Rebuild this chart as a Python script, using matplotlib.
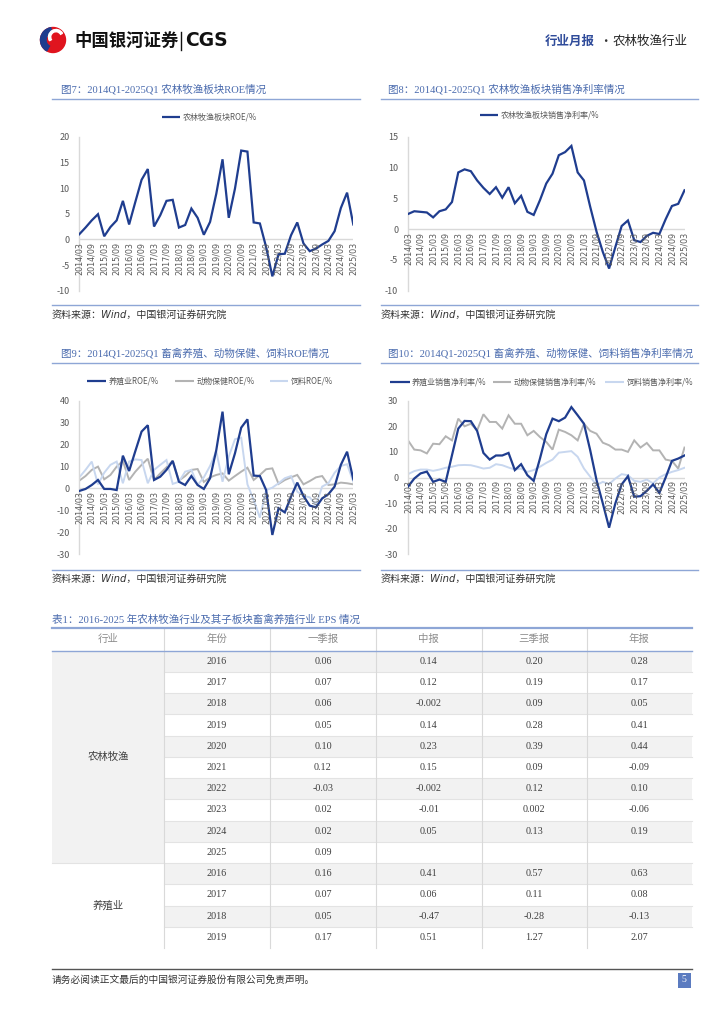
import matplotlib
matplotlib.use('Agg')
import matplotlib.pyplot as plt
from matplotlib.patches import Rectangle, Circle, Wedge

plt.rcParams['font.family'] = ['Noto Sans CJK SC', 'DejaVu Sans']
plt.rcParams['axes.unicode_minus'] = False

# ---------------- data ----------------
n_quarters = 45  # 2014Q1 .. 2025Q1
x_tick_labels = ['2014/03', '2014/09', '2015/03', '2015/09', '2016/03', '2016/09',
                 '2017/03', '2017/09', '2018/03', '2018/09', '2019/03', '2019/09',
                 '2020/03', '2020/09', '2021/03', '2021/09', '2022/03', '2022/09',
                 '2023/03', '2023/09', '2024/03', '2024/09', '2025/03']

sector_roe = [1.0, 2.3, 3.7, 4.9, 0.6, 2.4, 3.7, 7.5, 2.9, 7.3, 11.6, 13.7, 2.5, 4.7, 7.5,
              7.7, 2.3, 2.8, 6.0, 4.2, 0.9, 3.4, 8.9, 15.6, 4.2, 9.9, 17.3, 17.1, 3.3, 3.1,
              -1.5, -7.2, -2.9, -2.8, 0.8, 3.3, -0.8, -2.3, -1.8, -1.0, -0.3, 1.6, 6.1, 9.1, 2.9]

sector_npm = [2.45, 2.9, 2.8, 2.7, 1.9, 2.9, 3.2, 4.4, 9.2, 9.7, 9.4, 7.9, 6.7, 5.7, 6.8,
              5.1, 6.8, 4.2, 5.4, 2.8, 2.3, 4.7, 7.4, 9.0, 12.0, 12.5, 13.5, 9.2, 7.9, 3.6,
              -0.4, -3.7, -6.4, -2.9, 0.5, 1.4, -1.8, -2.1, -1.1, -0.6, -0.8, 1.6, 3.75, 4.1, 6.3]

breed_roe = [-1.2, -0.3, 1.5, 3.8, -0.3, -0.3, -0.8, 14.9, 7.9, 17.0, 25.9, 28.8, 3.8, 5.3, 8.4,
             12.5, 3.0, 1.5, 5.6, 1.5, -0.3, 4.6, 17.5, 35.0, 6.4, 16.0, 27.7, 31.5, 5.8, 5.6,
             -0.8, -21.3, -9.1, -11.0, -3.8, 2.6, -3.5, -7.9, -8.7, -4.6, -2.7, 0.8, 10.7, 16.7, 4.1]
vet_roe = [3.5, 5.6, 8.4, 9.9, 4.1, 6.1, 9.9, 12.5, 3.8, 7.6, 10.7, 13.5, 3.8, 6.8, 9.6,
           12.6, 3.5, 5.6, 8.4, 8.8, 2.9, 5.0, 6.1, 6.8, 3.5, 5.6, 7.6, 9.4, 3.8, 6.1,
           8.7, 9.1, 2.0, 3.8, 5.0, 6.1, 1.8, 3.3, 5.0, 5.6, 1.5, 1.8, 2.6, 2.3, 1.8]
feed_roe = [5.0, 8.4, 12.2, 1.8, 7.1, 10.7, 12.2, 2.3, 12.2, 13.2, 12.9, 2.3, 8.4, 10.7, 12.9,
            2.0, 3.0, 7.6, 8.4, 1.5, 5.0, 10.2, 17.0, 3.0, 14.5, 22.4, 23.1, 1.8, -5.3, -13.4,
            -0.8, 0.3, 2.3, 4.6, 5.6, -1.5, -3.5, -4.1, -7.6, 0.8, 2.3, 7.1, 10.2, 11.0, 3.0]

breed_npm = [-3.6, -0.4, 1.6, 2.3, -1.7, -0.8, -1.7, 8.7, 19.1, 22.1, 22.0, 18.2, 9.6, 7.0, 8.6,
             8.6, 9.6, 2.9, 5.2, 0.9, -1.3, 7.4, 16.9, 23.0, 22.0, 23.4, 27.5, 24.3, 21.0, 10.6,
             -1.0, -10.1, -19.6, -10.1, -2.7, 0.5, -7.5, -7.3, -5.2, -2.7, -6.0, 0.0, 6.5, 7.4, 8.6]
vet_npm = [14.5, 10.9, 10.6, 9.4, 13.2, 13.0, 16.1, 14.5, 23.0, 20.0, 21.0, 18.4, 24.7, 21.7, 21.7,
           19.1, 24.3, 21.0, 21.0, 16.5, 18.2, 15.8, 13.9, 10.9, 18.7, 17.8, 16.5, 14.5, 21.0, 18.2,
           17.1, 13.6, 12.6, 10.9, 10.9, 10.0, 14.5, 11.7, 13.5, 10.6, 10.6, 7.0, 6.5, 3.5, 11.7]
feed_npm = [1.3, 2.5, 3.1, 3.1, 2.6, 3.1, 3.8, 4.2, 4.8, 4.9, 4.8, 4.2, 3.5, 3.8, 5.2,
            4.8, 3.9, 3.1, 3.5, 2.2, 2.9, 4.2, 5.7, 7.0, 9.7, 10.0, 10.3, 8.1, 3.5, 0.3,
            -3.0, -1.7, -2.6, -0.4, 1.3, 0.9, -1.3, -1.7, -0.8, -2.3, 0.0, 1.3, 2.2, 2.9, 3.8]

table_header = ['行业', '年份', '一季报', '中报', '三季报', '年报']
agri_years = ['2016', '2017', '2018', '2019', '2020', '2021', '2022', '2023', '2024', '2025']
agri_q1 = ['0.06', '0.07', '0.06', '0.05', '0.10', '0.12', '-0.03', '0.02', '0.02', '0.09']
agri_h1 = ['0.14', '0.12', '-0.002', '0.14', '0.23', '0.15', '-0.002', '-0.01', '0.05', '']
agri_q3 = ['0.20', '0.19', '0.09', '0.28', '0.39', '0.09', '0.12', '0.002', '0.13', '']
agri_fy = ['0.28', '0.17', '0.05', '0.41', '0.44', '-0.09', '0.10', '-0.06', '0.19', '']
breed_years = ['2016', '2017', '2018', '2019']
breed_q1 = ['0.16', '0.07', '0.05', '0.17']
breed_h1 = ['0.41', '0.06', '-0.47', '0.51']
breed_q3 = ['0.57', '0.11', '-0.28', '1.27']
breed_fy = ['0.63', '0.08', '-0.13', '2.07']

# ---------------- style ----------------
DARK = '#1F3D8F'
GRAY = '#B3B3B3'
LIGHT = '#C8D7EF'
TITLE_BLUE = '#4A6BAE'
RULE = '#8EA6D6'
TICK = '#595959'
CJK_SERIF = ['Liberation Serif', 'Noto Sans CJK SC']

W, H = 724, 1024
fig = plt.figure(figsize=(7.24, 10.24), dpi=100)

# background axes in pixel coordinates
bg = fig.add_axes([0, 0, 1, 1], zorder=0)
bg.set_xlim(0, W)
bg.set_ylim(H, 0)
bg.axis('off')

# ---------------- header ----------------
bg.add_patch(Circle((53, 40), 12.5, color='#E0141E', zorder=2))
bg.add_patch(Wedge((53, 40), 12.5, 120, 260, width=5.5, color='#1D3C8E', zorder=3))
bg.add_patch(Wedge((56, 37), 7.5, 150, 330, width=2.2, color='white', zorder=4))
bg.text(74, 41, '中国银河证券', fontsize=12.5, fontweight='bold', color='#111111',
        va='center', ha='left')
bg.plot([181, 181], [32, 50], color='#111111', lw=1.0)
bg.text(185, 41, 'CGS', fontsize=13.5, fontweight='bold', color='#111111',
        va='center', ha='left', family=['DejaVu Sans'])
bg.text(545, 41, '行业月报', fontsize=9, color='#2F4B9A', va='center', ha='left',
        fontweight='bold')
bg.text(605, 41, '·', fontsize=9, color='#333333', va='center', ha='center')
bg.text(613, 41, '农林牧渔行业', fontsize=9, color='#222222', va='center', ha='left')


def panel(title, tx, ty, rx0, rx1, rule_top, rule_bot, src_y):
    bg.text(tx, ty, title, fontsize=7.6, color=TITLE_BLUE, va='center', ha='left',
            family=CJK_SERIF)
    bg.plot([rx0, rx1], [rule_top, rule_top], color=RULE, lw=1.0)
    bg.plot([rx0, rx1], [rule_bot, rule_bot], color=RULE, lw=1.0)
    bg.text(rx0, src_y, '资料来源：Wind，中国银河证券研究院', fontsize=7.2, color='#333333',
            va='center', ha='left', style='italic', family=['DejaVu Sans', 'Noto Sans CJK SC'])


def legend(items, y):
    for (x0, x1, tx, label, color, lw) in items:
        bg.plot([x0, x1], [y, y], color=color, lw=lw, solid_capstyle='butt')
        bg.text(tx, y, label, fontsize=5.8, color=TICK, va='center', ha='left')


def chart(x0, x1, ytop, ybot, ymax, ymin, ystep, series):
    ax = fig.add_axes([x0 / W, 1 - ybot / H, (x1 - x0) / W, (ybot - ytop) / H], zorder=1)
    ax.set_facecolor('none')
    xs = list(range(n_quarters))
    ax.axhline(0, color='#D9D9D9', lw=1.0, zorder=1)
    for vals, color, lw, z in series:
        ax.plot(xs, vals, color=color, lw=lw, zorder=z, solid_joinstyle='miter')
    ax.set_xlim(0, n_quarters - 1)
    ax.set_ylim(ymin, ymax)
    ax.set_yticks(list(range(ymin, ymax + 1, ystep)))
    ax.set_xticks([])
    for s in ['top', 'right', 'bottom']:
        ax.spines[s].set_visible(False)
    ax.spines['left'].set_color('#D9D9D9')
    ax.spines['left'].set_linewidth(1.0)
    ax.tick_params(axis='y', length=0, labelsize=6.5, labelcolor=TICK, pad=7)
    for k, lab in enumerate(x_tick_labels):
        ax.annotate(lab, xy=(2 * k, 0), xycoords='data', xytext=(0, -2),
                    textcoords='offset points', rotation=90, ha='center', va='top',
                    fontsize=5.8, color=TICK, family=['DejaVu Sans'])
    return ax


# ---------------- Figure 7 ----------------
panel('图7：2014Q1-2025Q1 农林牧渔板块ROE情况', 61, 89.5, 52, 360, 99, 305, 315)
legend([(162, 180, 183, '农林牧渔板块ROE/%', DARK, 1.6)], 117)
chart(79.3, 353.3, 136.7, 290.7, 20, -10, 5, [(sector_roe, DARK, 1.6, 3)])

# ---------------- Figure 8 ----------------
panel('图8：2014Q1-2025Q1 农林牧渔板块销售净利率情况', 388, 89.5, 381, 698, 99, 305, 315)
legend([(480, 498, 501, '农林牧渔板块销售净利率/%', DARK, 1.6)], 115)
chart(408, 684.5, 136.7, 290.7, 15, -10, 5, [(sector_npm, DARK, 1.6, 3)])

# ---------------- Figure 9 ----------------
panel('图9：2014Q1-2025Q1 畜禽养殖、动物保健、饲料ROE情况', 61, 353.5, 52, 360, 362.7, 569.5, 579)
legend([(87, 106, 109, '养殖业ROE/%', DARK, 1.6),
        (175, 194, 197, '动物保健ROE/%', GRAY, 1.5),
        (270, 288, 291, '饲料ROE/%', LIGHT, 1.5)], 381)
chart(79.3, 353.3, 400.7, 554.0, 40, -30, 10,
      [(vet_roe, GRAY, 1.4, 2), (feed_roe, LIGHT, 1.4, 2), (breed_roe, DARK, 1.6, 3)])

# ---------------- Figure 10 ----------------
panel('图10：2014Q1-2025Q1 畜禽养殖、动物保健、饲料销售净利率情况', 388, 353.5, 381, 698, 362.7, 569.5, 579)
legend([(390, 410, 412, '养殖业销售净利率/%', DARK, 1.6),
        (493, 511, 514, '动物保健销售净利率/%', GRAY, 1.5),
        (605, 624, 627, '饲料销售净利率/%', LIGHT, 1.5)], 381.5)
chart(408, 684.5, 400.7, 554.3, 30, -30, 10,
      [(vet_npm, GRAY, 1.4, 2), (feed_npm, LIGHT, 1.4, 2), (breed_npm, DARK, 1.6, 3)])

# ---------------- Table ----------------
bg.text(52, 619, '表1：2016-2025 年农林牧渔行业及其子板块畜禽养殖行业 EPS 情况', fontsize=7.6,
        color=TITLE_BLUE, va='center', ha='left', family=CJK_SERIF)
col_x = [52, 164, 270, 376, 481.5, 586.5, 692]
head_top, head_bot = 628, 650.7
row_h = 21.24

rows = []
for i in range(len(agri_years)):
    rows.append([agri_years[i], agri_q1[i], agri_h1[i], agri_q3[i], agri_fy[i]])
for i in range(len(breed_years)):
    rows.append([breed_years[i], breed_q1[i], breed_h1[i], breed_q3[i], breed_fy[i]])
n_rows = len(rows)
n_agri = len(agri_years)
table_bot = head_bot + n_rows * row_h

# industry column shading
bg.add_patch(Rectangle((col_x[0], head_bot), col_x[1] - col_x[0], n_agri * row_h,
                       facecolor='#F2F2F2', edgecolor='none', zorder=1))
for r in range(n_rows):
    y0 = head_bot + r * row_h
    if r % 2 == 0:
        bg.add_patch(Rectangle((col_x[1], y0), col_x[-1] - col_x[1], row_h,
                               facecolor='#F2F2F2', edgecolor='none', zorder=1))
    if r > 0:
        bg.plot([col_x[1], col_x[-1]], [y0, y0], color='#E3E3E3', lw=0.8, zorder=2)
    for c, val in enumerate(rows[r]):
        cx = (col_x[c + 1] + col_x[c + 2]) / 2
        bg.text(cx, y0 + row_h / 2, val, fontsize=7.3, color='#404040', ha='center',
                va='center', family=CJK_SERIF, zorder=3)
bg.plot([col_x[0], col_x[1]], [head_bot + n_agri * row_h] * 2, color='#E3E3E3', lw=0.8, zorder=2)
for xv in col_x[1:-1]:
    bg.plot([xv, xv], [head_top, table_bot], color='#D9D9D9', lw=0.8, zorder=2)
bg.plot([col_x[0], col_x[-1]], [head_top, head_top], color=RULE, lw=1.6, zorder=3)
bg.plot([col_x[0], col_x[-1]], [head_bot, head_bot], color=RULE, lw=1.0, zorder=3)
for c, lab in enumerate(table_header):
    cx = (col_x[c] + col_x[c + 1]) / 2
    bg.text(cx, (head_top + head_bot) / 2, lab, fontsize=7.5, color='#8C8C8C',
            ha='center', va='center', zorder=3)
bg.text((col_x[0] + col_x[1]) / 2, head_bot + n_agri * row_h / 2, '农林牧渔', fontsize=7.5,
        color='#404040', ha='center', va='center', zorder=3)
bg.text((col_x[0] + col_x[1]) / 2, head_bot + n_agri * row_h + (n_rows - n_agri) * row_h / 2,
        '养殖业', fontsize=7.5, color='#404040', ha='center', va='center', zorder=3)

# ---------------- footer ----------------
bg.plot([52, 692], [969, 969], color='#555555', lw=1.0)
bg.text(52, 980, '请务必阅读正文最后的中国银河证券股份有限公司免责声明。', fontsize=7,
        color='#333333', va='center', ha='left')
bg.add_patch(Rectangle((677.5, 972.5), 13, 15, facecolor='#5B7BC0', edgecolor='none'))
bg.text(684, 980, '5', fontsize=7, color='white', ha='center', va='center',
        family=['Liberation Serif'])

fig.savefig('out.png', dpi=100)
